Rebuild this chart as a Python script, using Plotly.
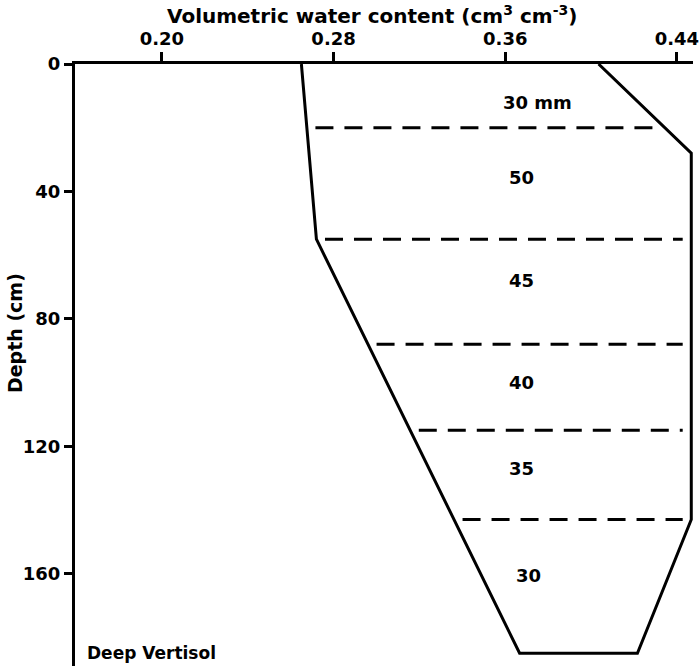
import numpy as np
import plotly.graph_objects as go

# Boundary profiles (depth in cm, volumetric water content)
left_depth = [0, 55, 185]
left_theta = [0.265, 0.272, 0.3667]
right_depth = [0, 28, 143, 185]
right_theta = [0.4035, 0.4467, 0.4467, 0.4216]

# Layer boundaries (dashed lines) and storage labels
layer_bounds = [20, 55, 88, 115, 143]
label_depths = [12, 35.5, 68, 100, 127, 160.5]
label_theta = [0.3751, 0.3677, 0.3677, 0.3677, 0.3677, 0.371]
label_texts = ["30 mm", "50", "45", "40", "35", "30"]

x_ticks = [0.20, 0.28, 0.36, 0.44]
x_ticktext = ["0.20", "0.28", "0.36", "0.44"]
y_ticks = [0, 40, 80, 120, 160]

FONT = "DejaVu Sans"

fig = go.Figure()

# Outline polygon: left profile down, bottom, right profile up
poly_x = left_theta + right_theta[::-1]
poly_y = left_depth + right_depth[::-1]
fig.add_trace(go.Scatter(x=poly_x, y=poly_y, mode="lines", cliponaxis=False,
                         line=dict(color="black", width=3),
                         hoverinfo="skip", showlegend=False))

inset = 0.004
for d in layer_bounds:
    xl = float(np.interp(d, left_depth, left_theta)) + inset
    xr = float(np.interp(d, right_depth, right_theta)) - inset
    fig.add_trace(go.Scatter(x=[xl, xr], y=[d, d], mode="lines", cliponaxis=False,
                             line=dict(color="black", width=3, dash="18px,11px"),
                             hoverinfo="skip", showlegend=False))

for t, xv, yv in zip(label_texts, label_theta, label_depths):
    fig.add_annotation(x=xv, y=yv, text=t, showarrow=False,
                       font=dict(family=FONT, size=18, color="black", weight="bold"))

fig.add_annotation(xref="paper", x=0.016, y=185, text="Deep Vertisol",
                   xanchor="left", yanchor="middle", showarrow=False,
                   font=dict(family=FONT, size=17, color="black", weight="bold"))

# axis titles placed as annotations (positions as in the original figure)
fig.add_annotation(xref="paper", yref="paper", x=0.481, y=1.0, yshift=49,
                   text="Volumetric water content (cm<sup>3</sup> cm<sup>-3</sup>)",
                   showarrow=False, xanchor="center", yanchor="middle",
                   font=dict(family=FONT, size=20, color="black", weight="bold"))
fig.add_annotation(xref="paper", yref="paper", x=0.0, xshift=-60, y=0.553,
                   text="Depth (cm)", textangle=-90,
                   showarrow=False, xanchor="center", yanchor="middle",
                   font=dict(family=FONT, size=19, color="black", weight="bold"))

fig.update_layout(
    width=700, height=671,
    margin=dict(l=75, r=7, t=64, b=5),
    paper_bgcolor="white", plot_bgcolor="white",
    font=dict(family=FONT, color="black", weight="bold"),
    xaxis=dict(side="top", range=[0.1595, 0.4475], tickvals=x_ticks, ticktext=x_ticktext,
               automargin=False,
               showgrid=False, zeroline=False, showline=True, linecolor="black", linewidth=3,
               ticks="outside", ticklen=9, tickwidth=2.5, tickcolor="black",
               tickfont=dict(family=FONT, size=18, weight="bold")),
    yaxis=dict(range=[189, 0], tickvals=y_ticks, automargin=False,
               showgrid=False, zeroline=False, showline=True, linecolor="black", linewidth=3,
               ticks="outside", ticklen=8, tickwidth=2.5, tickcolor="black",
               tickfont=dict(family=FONT, size=18, weight="bold")),
)

# remove the browser's default 8px body margin so the figure fills the window exactly
fig.write_html("out.html", config={"displayModeBar": False},
               post_script="document.body.style.margin='0';")
